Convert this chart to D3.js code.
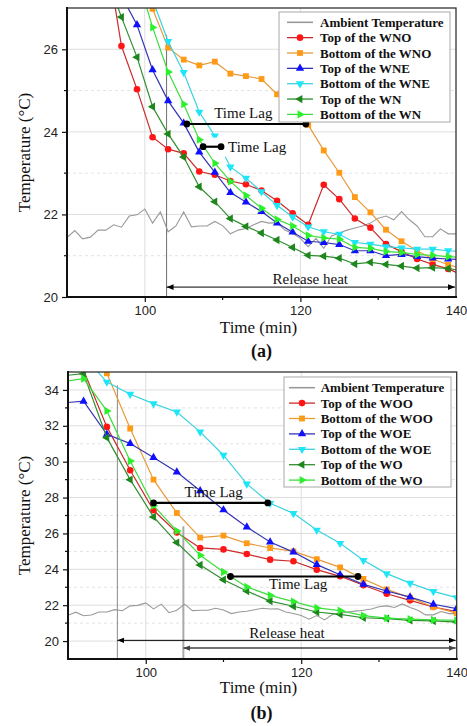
<!DOCTYPE html>
<html>
<head>
<meta charset="utf-8">
<script src="https://cdn.jsdelivr.net/npm/d3@7"></script>
<style>
body { margin: 0; background: #fff; }
svg { display: block; }
</style>
</head>
<body>
<script>
// ambient temperature, same record in both panels (1 min steps)
var ambientTime = [90, 91, 92, 93, 94, 95, 96, 97, 98, 99, 100, 101, 102, 103, 104, 105, 106, 107, 108, 109,
    110, 111, 112, 113, 114, 115, 116, 117, 118, 119, 120, 121, 122, 123, 124, 125, 126, 127, 128, 129,
    130, 131, 132, 133, 134, 135, 136, 137, 138, 139, 140];
var ambientTemp = [21.44, 21.61, 21.41, 21.45, 21.62, 21.62, 21.75, 21.69, 21.96, 21.99, 22.13, 21.79, 22.06, 21.58, 21.72,
    22.06, 21.70, 21.72, 21.72, 21.83, 21.73, 21.53, 21.62, 21.66, 21.75, 21.83, 21.79, 21.80, 21.62, 21.54,
    21.42, 21.22, 21.42, 21.18, 21.48, 21.55, 21.62, 21.67, 21.72, 21.79, 21.91, 21.96, 21.87, 22.07, 21.87,
    21.72, 21.46, 21.46, 21.65, 21.53, 21.53];

// panel (a)
var timeA = [95, 97, 99, 101, 103, 105, 107, 109, 111, 113, 115, 117, 119, 121, 123, 125, 127, 129, 131, 133, 135, 137, 139, 141];
var topWNO = [28.4, 26.08, 25.03, 23.87, 23.58, 23.48, 23.04, 22.96, 22.81, 22.73, 22.58, 22.33, 22.03, 21.75, 22.72, 22.37, 21.90, 21.68, 21.28, 21.10, 20.92, 20.79, 20.68, 20.52];
var bottomWNO = [null, 29.6, 28.2, 26.98, 26.04, 25.75, 25.61, 25.70, 25.41, 25.35, 25.28, 24.91, 24.58, 24.17, 23.55, 23.01, 22.42, 22.05, 21.63, 21.35, 21.12, 20.92, 20.78, 20.68];
var topWNE = [28.4, 27.3, 26.59, 25.50, 24.75, 24.21, 23.51, 23.02, 22.53, 22.30, 22.07, 21.79, 21.57, 21.35, 21.32, 21.27, 21.12, 21.12, 21.00, 21.03, 20.98, 20.94, 20.92, 20.90];
var bottomWNE = [null, null, 28.5, 27.2, 26.19, 25.44, 24.48, 23.90, 23.15, 22.88, 22.55, 22.22, 21.94, 21.70, 21.58, 21.52, 21.32, 21.28, 21.22, 21.19, 21.16, 21.16, 21.12, 21.10];
var topWN = [27.8, 26.78, 25.81, 24.61, 23.95, 23.39, 22.67, 22.31, 21.90, 21.71, 21.55, 21.38, 21.20, 21.01, 20.99, 20.94, 20.80, 20.84, 20.79, 20.75, 20.70, 20.71, 20.69, 20.63];
var bottomWN = [null, 29.0, 27.8, 26.53, 25.45, 24.67, 23.81, 23.24, 22.80, 22.46, 22.15, 21.88, 21.72, 21.49, 21.43, 21.40, 21.20, 21.18, 21.10, 21.08, 21.03, 21.01, 20.98, 20.95];
var legendA = ['Ambient Temperature', 'Top of the WNO', 'Bottom of the WNO', 'Top of the WNE', 'Bottom of the WNE', 'Top of the WN', 'Bottom of the WN'];

// panel (b)
var timeB = [90, 92, 95, 98, 101, 104, 107, 110, 113, 116, 119, 122, 125, 128, 131, 134, 137, 140];
var markTimeB = [92, 95, 98, 101, 104, 107, 110, 113, 116, 119, 122, 125, 128, 131, 134, 137, 140];
var topWOO = [35.6, 35.1, 31.94, 29.52, 27.29, 26.05, 25.19, 25.11, 24.85, 24.54, 24.45, 23.98, 23.61, 23.11, 22.64, 22.27, 21.90, 21.64];
var bottomWOO = [36.6, 36.0, 34.93, 31.85, 29.0, 27.14, 25.77, 25.88, 25.45, 25.19, 25.0, 24.57, 24.11, 23.46, 22.88, 22.42, 21.90, 21.56];
var topWOE = [33.30, 33.37, 31.53, 31.01, 30.23, 29.42, 28.38, 27.31, 26.36, 25.52, 24.96, 24.26, 23.70, 23.16, 22.79, 22.45, 22.05, 21.81];
var bottomWOE = [36.8, 35.9, 34.44, 33.76, 33.24, 32.77, 31.66, 30.36, 28.76, 27.68, 27.12, 26.19, 25.45, 24.50, 23.76, 23.23, 22.77, 22.42];
var topWO = [34.82, 34.91, 31.34, 29.0, 26.92, 25.49, 24.24, 23.42, 22.79, 22.23, 21.94, 21.62, 21.49, 21.30, 21.25, 21.15, 21.12, 21.06];
var bottomWO = [34.50, 34.63, 32.83, 30.04, 27.55, 26.14, 24.78, 23.85, 23.02, 22.55, 22.2, 21.85, 21.70, 21.42, 21.28, 21.22, 21.18, 21.15];
var legendB = ['Ambient Temperature', 'Top of the WOO', 'Bottom of the WOO', 'Top of the WOE', 'Bottom of the WOE', 'Top of the WO', 'Bottom of the WO'];

var seriesStyle = [
    {kind: 'circle', fill: '#ff1515', stroke: '#cc2b2b'},
    {kind: 'square', fill: '#ff9a16', stroke: '#e89a3a'},
    {kind: 'up', fill: '#1010ff', stroke: '#3434b4'},
    {kind: 'down', fill: '#1ee6f6', stroke: '#3ad2e2'},
    {kind: 'left', fill: '#1d861d', stroke: '#2f8f2f'},
    {kind: 'right', fill: '#2cf02c', stroke: '#3edc3e'}
];
var ambientColor = '#9a9a9a';
var serif = '"Liberation Serif", "Times New Roman", serif';
var sans = '"Liberation Sans", Arial, sans-serif';

var svg = d3.select('body').append('svg').attr('width', 467).attr('height', 726);
var defs = svg.append('defs');

['#000', '#444'].forEach(function(c, i) {
    defs.append('marker')
        .attr('id', 'arrow' + i)
        .attr('viewBox', '0 0 10 8')
        .attr('refX', 10).attr('refY', 4)
        .attr('markerWidth', 7).attr('markerHeight', 6)
        .attr('markerUnits', 'userSpaceOnUse')
        .attr('orient', 'auto-start-reverse')
        .append('path').attr('d', 'M0,0L10,4L0,8Z').attr('fill', c);
});

function symbolPath(kind) {
    var type = kind === 'circle' ? d3.symbolCircle : kind === 'square' ? d3.symbolSquare : d3.symbolTriangle;
    var size = kind === 'circle' ? 34 : kind === 'square' ? 34 : 30;
    return d3.symbol().type(type).size(size)();
}
function symbolRotate(kind) {
    return {down: 180, left: -90, right: 90}[kind] || 0;
}

function drawPanel(cfg) {
    var x = d3.scaleLinear().domain([90, 140]).range([cfg.left, cfg.right]);
    var y = d3.scaleLinear().domain(cfg.yDomain).range([cfg.bottom, cfg.top]);
    var g = svg.append('g');
    var clipId = 'clip-' + cfg.id;

    defs.append('clipPath').attr('id', clipId)
        .append('rect')
        .attr('x', cfg.left).attr('y', cfg.top)
        .attr('width', cfg.right - cfg.left).attr('height', cfg.bottom - cfg.top);

    // grid
    g.selectAll('.gy').data(cfg.yGrid).enter().append('line')
        .attr('x1', cfg.left).attr('x2', cfg.right)
        .attr('y1', y).attr('y2', y)
        .attr('stroke', '#dedede').attr('stroke-width', 1);
    g.selectAll('.gym').data(cfg.yMinor).enter().append('line')
        .attr('x1', cfg.left).attr('x2', cfg.right)
        .attr('y1', y).attr('y2', y)
        .attr('stroke', '#e2e2e2').attr('stroke-width', 1)
        .attr('stroke-dasharray', '3,3');
    g.selectAll('.gx').data([100, 120]).enter().append('line')
        .attr('x1', x).attr('x2', x)
        .attr('y1', cfg.top).attr('y2', cfg.bottom)
        .attr('stroke', '#dedede').attr('stroke-width', 1);

    // release heat guide lines
    cfg.vlines.forEach(function(v) {
        g.append('line')
            .attr('x1', x(v.t)).attr('x2', x(v.t))
            .attr('y1', y(v.T)).attr('y2', cfg.bottom)
            .attr('stroke', v.color).attr('stroke-width', v.width);
    });

    var plot = g.append('g').attr('clip-path', 'url(#' + clipId + ')');

    var ambientLine = d3.line()
        .x(function(d, i) { return x(ambientTime[i]); })
        .y(function(d) { return y(d); });
    plot.append('path')
        .attr('d', ambientLine(ambientTemp))
        .attr('fill', 'none')
        .attr('stroke', ambientColor)
        .attr('stroke-width', 1.1);

    var line = d3.line()
        .defined(function(d) { return d != null; })
        .x(function(d, i) { return x(cfg.time[i]); })
        .y(function(d) { return y(d); });

    cfg.series.forEach(function(values, k) {
        var st = seriesStyle[k];
        plot.append('path')
            .attr('d', line(values))
            .attr('fill', 'none')
            .attr('stroke', st.stroke)
            .attr('stroke-width', 1.2);
        var pts = [];
        cfg.time.forEach(function(t, i) {
            if (values[i] != null && cfg.marks.indexOf(t) >= 0) pts.push([t, values[i]]);
        });
        plot.selectAll('.m' + k).data(pts).enter().append('path')
            .attr('d', symbolPath(st.kind))
            .attr('transform', function(d) {
                return 'translate(' + x(d[0]) + ',' + y(d[1]) + ') rotate(' + symbolRotate(st.kind) + ')';
            })
            .attr('fill', st.fill);
    });

    // release heat arrows
    cfg.arrows.forEach(function(a, i) {
        g.append('line')
            .attr('x1', x(a.t)).attr('x2', cfg.right - 1)
            .attr('y1', y(a.T)).attr('y2', y(a.T))
            .attr('stroke', a.color).attr('stroke-width', a.width)
            .attr('marker-start', 'url(#arrow' + a.head + ')')
            .attr('marker-end', 'url(#arrow' + a.head + ')');
    });
    var ha = cfg.arrows[0];
    g.append('text')
        .attr('x', (x(ha.t) + cfg.right) / 2 + cfg.heatDx)
        .attr('y', y(ha.T) + cfg.heatDy)
        .attr('text-anchor', 'middle')
        .attr('font-family', serif).attr('font-size', 15)
        .attr('fill', '#111')
        .text('Release heat');

    // time lag marks
    cfg.lags.forEach(function(l) {
        var x0 = x(l.t0), x1 = x(l.t1), yy = y(l.T);
        var tx = l.anchor === 'middle' ? (x0 + x1) / 2 + l.dx : x1 + l.dx;
        var lab = g.append('text')
            .attr('x', tx).attr('y', yy + l.dy)
            .attr('text-anchor', l.anchor)
            .attr('font-family', serif).attr('font-size', 15)
            .attr('fill', '#111')
            .text('Time Lag');
        if (l.bg) {
            var b = lab.node().getBBox();
            g.insert('rect', function() { return lab.node(); })
                .attr('x', x1 - 8).attr('y', b.y - 1)
                .attr('width', b.x + b.width + 3 - (x1 - 8)).attr('height', b.height + 3)
                .attr('fill', '#fff');
        }
        g.append('line')
            .attr('x1', x0).attr('x2', x1).attr('y1', yy).attr('y2', yy)
            .attr('stroke', '#000').attr('stroke-width', 2.2);
        g.selectAll(null).data([x0, x1]).enter().append('circle')
            .attr('cx', function(d) { return d; }).attr('cy', yy)
            .attr('r', 3.4).attr('fill', '#000');
    });

    // axes
    var ax = g.append('g')
        .attr('transform', 'translate(0,' + cfg.bottom + ')')
        .call(d3.axisBottom(x).tickValues([100, 120, 140]).tickSize(5).tickPadding(4).tickFormat(d3.format('d')));
    ax.selectAll('.tick').filter(function(d) { return d === 140; }).select('line').remove();
    ax.selectAll('.minor').data([110, 130]).enter().append('line')
        .attr('x1', x).attr('x2', x).attr('y1', 0).attr('y2', 3)
        .attr('stroke', '#111').attr('stroke-width', 1.2);
    var ay = g.append('g')
        .attr('transform', 'translate(' + cfg.left + ',0)')
        .call(d3.axisLeft(y).tickValues(cfg.yTicks).tickSize(5).tickPadding(4).tickFormat(d3.format('d')));
    ay.selectAll('.minor').data(cfg.yMinor).enter().append('line')
        .attr('x1', -3).attr('x2', 0).attr('y1', y).attr('y2', y)
        .attr('stroke', '#111').attr('stroke-width', 1.2);
    [ax, ay].forEach(function(a) {
        a.select('.domain').remove();
        a.selectAll('.tick line').attr('stroke', '#111').attr('stroke-width', 1.2);
        a.selectAll('.tick text').attr('font-family', sans).attr('font-size', 13).attr('fill', '#222');
    });

    // frame
    g.append('rect')
        .attr('x', cfg.left).attr('y', cfg.top)
        .attr('width', cfg.right - cfg.left).attr('height', cfg.bottom - cfg.top)
        .attr('fill', 'none').attr('stroke', '#333').attr('stroke-width', 1.3);
    g.append('line')
        .attr('x1', cfg.left - 1).attr('x2', cfg.right + 1)
        .attr('y1', cfg.bottom).attr('y2', cfg.bottom)
        .attr('stroke', '#111').attr('stroke-width', 2);
    g.append('line')
        .attr('x1', cfg.left).attr('x2', cfg.left)
        .attr('y1', cfg.top - 1).attr('y2', cfg.bottom + 1)
        .attr('stroke', '#111').attr('stroke-width', 2);

    // legend
    var lb = cfg.legend;
    var leg = g.append('g');
    leg.append('rect')
        .attr('x', lb.x).attr('y', lb.y).attr('width', lb.w).attr('height', lb.h)
        .attr('fill', '#fff').attr('stroke', '#a8a8a8').attr('stroke-width', 1);
    cfg.labels.forEach(function(name, i) {
        var ry = lb.row0 + i * lb.step;
        var color = i === 0 ? ambientColor : seriesStyle[i - 1].stroke;
        leg.append('line')
            .attr('x1', lb.lx).attr('x2', lb.lx + 26).attr('y1', ry).attr('y2', ry)
            .attr('stroke', color).attr('stroke-width', i === 0 ? 1.6 : 1.3);
        if (i > 0) {
            var st = seriesStyle[i - 1];
            leg.append('path')
                .attr('d', symbolPath(st.kind))
                .attr('transform', 'translate(' + (lb.lx + 13) + ',' + ry + ') rotate(' + symbolRotate(st.kind) + ')')
                .attr('fill', st.fill);
        }
        leg.append('text')
            .attr('x', lb.tx).attr('y', ry + 4.5)
            .attr('font-family', serif).attr('font-size', 13).attr('font-weight', 'bold')
            .attr('fill', '#111')
            .text(name);
    });

    // titles
    g.append('text')
        .attr('x', 258.5).attr('y', cfg.xTitleY)
        .attr('text-anchor', 'middle')
        .attr('font-family', serif).attr('font-size', 17).attr('fill', '#111')
        .text('Time (min)');
    g.append('text')
        .attr('transform', 'translate(30,' + ((cfg.top + cfg.bottom) / 2) + ') rotate(-90)')
        .attr('text-anchor', 'middle')
        .attr('font-family', serif).attr('font-size', 17).attr('fill', '#111')
        .text('Temperature (\u00B0C)');
    g.append('text')
        .attr('x', 261.5).attr('y', cfg.tagY)
        .attr('text-anchor', 'middle')
        .attr('font-family', serif).attr('font-size', 18).attr('font-weight', 'bold').attr('fill', '#111')
        .text(cfg.tag);
}

drawPanel({
    id: 'a', tag: '(a)',
    left: 67, right: 456, top: 8, bottom: 297,
    yDomain: [20, 27], yTicks: [20, 22, 24, 26], yGrid: [22, 24, 26], yMinor: [21, 23, 25],
    time: timeA, marks: timeA,
    series: [topWNO, bottomWNO, topWNE, bottomWNE, topWN, bottomWN],
    labels: legendA,
    vlines: [{t: 102.8, T: 26.35, color: '#6e6e6e', width: 1}],
    arrows: [{t: 102.8, T: 20.24, color: '#000', width: 1, head: 0}],
    heatDx: -1, heatDy: -3,
    lags: [
        {t0: 105.4, t1: 120.7, T: 24.19, anchor: 'middle', dx: -3, dy: -6},
        {t0: 107.5, t1: 109.8, T: 23.64, anchor: 'start', dx: 7, dy: 5, bg: true}
    ],
    legend: {x: 279, y: 12, w: 171, h: 110, row0: 22.3, step: 15.35, lx: 287, tx: 320},
    xTitleY: 333, tagY: 357
});

drawPanel({
    id: 'b', tag: '(b)',
    left: 68, right: 456.7, top: 372, bottom: 659,
    yDomain: [19, 35], yTicks: [20, 22, 24, 26, 28, 30, 32, 34],
    yGrid: [20, 22, 24, 26, 28, 30, 32, 34], yMinor: [21, 23, 25, 27, 29, 31, 33],
    time: timeB, marks: markTimeB,
    series: [topWOO, bottomWOO, topWOE, bottomWOE, topWO, bottomWO],
    labels: legendB,
    vlines: [
        {t: 96.35, T: 34.26, color: '#8a8a8a', width: 1},
        {t: 104.84, T: 26.4, color: '#aaaaaa', width: 2}
    ],
    arrows: [
        {t: 96.35, T: 20.04, color: '#000', width: 1, head: 0},
        {t: 104.84, T: 19.61, color: '#444', width: 1.5, head: 1}
    ],
    heatDx: 0, heatDy: -2,
    lags: [
        {t0: 101, t1: 115.7, T: 27.7, anchor: 'middle', dx: 3, dy: -6},
        {t0: 110.9, t1: 127.3, T: 23.6, anchor: 'middle', dx: 4, dy: 13}
    ],
    legend: {x: 284, y: 377, w: 167, h: 110, row0: 387.7, step: 15.4, lx: 289, tx: 320.7},
    xTitleY: 693, tagY: 719
});
</script>
</body>
</html>
